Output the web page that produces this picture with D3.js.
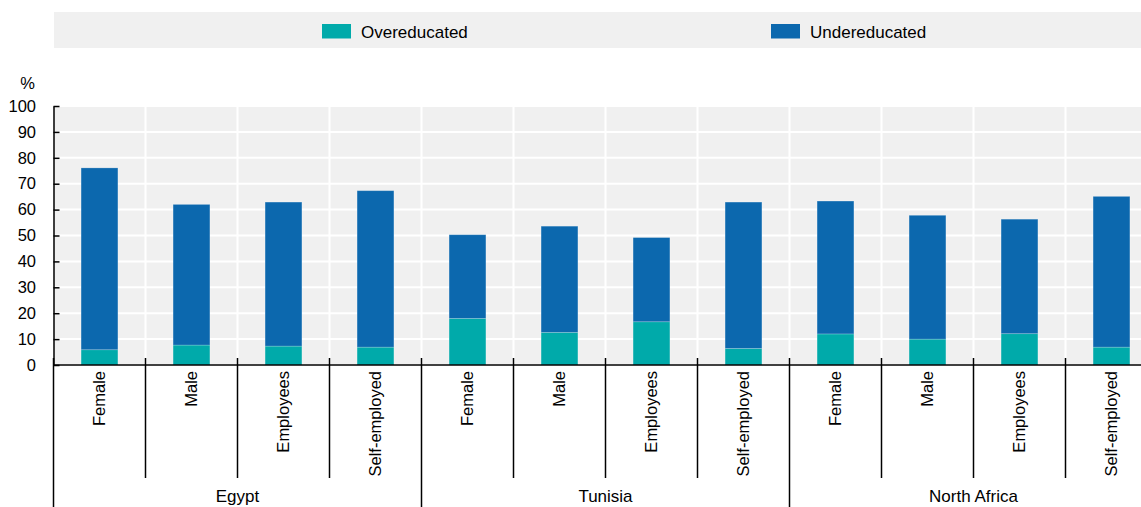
<!DOCTYPE html>
<html>
<head>
<meta charset="utf-8">
<script src="https://cdn.jsdelivr.net/npm/d3@7"></script>
<style>
  body { margin: 0; background: #fff; }
  svg { display: block; font-family: "Liberation Sans", Arial, sans-serif; }
</style>
</head>
<body>
<svg id="chart" width="1141" height="507"></svg>
<script>
const groups = ["Egypt", "Tunisia", "North Africa"];
const categories = ["Female", "Male", "Employees", "Self-employed"];
const seriesNames = ["Overeducated", "Undereducated"];
const overeducated = [5.9, 7.7, 7.3, 6.9, 18.0, 12.6, 16.7, 6.4, 12.0, 10.0, 12.1, 6.9];
const undereducated = [70.2, 54.3, 55.6, 60.4, 32.3, 41.0, 32.5, 56.5, 51.3, 47.8, 44.2, 58.2];
const yTicks = [0, 10, 20, 30, 40, 50, 60, 70, 80, 90, 100];

(function () {
const colors = { Overeducated: "#00AAAA", Undereducated: "#0C68AE" };

const rows = [];
groups.forEach((g, gi) => categories.forEach((c, ci) => {
  const i = gi * categories.length + ci;
  rows.push({ key: g + "|" + c, group: g, cat: c, Overeducated: overeducated[i], Undereducated: undereducated[i] });
}));

const svg = d3.select("#chart");
const pLeft = 53.5, pRight = 1157.5, pTop = 106, pBottom = 365;

const x = d3.scaleBand().domain(rows.map(d => d.key)).range([pLeft, pRight]).paddingInner(0.6).paddingOuter(0.3);
const y = d3.scaleLinear().domain([0, 100]).range([pBottom, pTop]);
const step = x.step();

const boundaries = rows.map((d, i) => pLeft + i * step).concat([pRight]);

// Legend
svg.append("rect").attr("x", 54).attr("y", 12).attr("width", 1141 - 54).attr("height", 36).attr("fill", "#f0f0f0");
const legendX = [322, 771];
seriesNames.forEach((s, i) => {
  svg.append("rect").attr("x", legendX[i]).attr("y", 24).attr("width", 29).attr("height", 14.5).attr("fill", colors[s]);
  svg.append("text").attr("x", legendX[i] + 39).attr("y", 37.5).attr("font-size", 17).attr("fill", "#000").text(s);
});

// Plot background
svg.append("rect").attr("x", pLeft).attr("y", pTop).attr("width", pRight - pLeft).attr("height", pBottom - pTop).attr("fill", "#f0f0f0");

// Horizontal grid
svg.append("g").selectAll("line").data(yTicks).join("line")
  .attr("x1", pLeft).attr("x2", pRight).attr("y1", d => y(d)).attr("y2", d => y(d))
  .attr("stroke", "#fff").attr("stroke-width", 2);
// Vertical grid
svg.append("g").selectAll("line").data(boundaries.slice(1, -1)).join("line")
  .attr("x1", d => d).attr("x2", d => d).attr("y1", pTop).attr("y2", pBottom)
  .attr("stroke", "#fff").attr("stroke-width", 2);

// Stacked bars
const stack = d3.stack().keys(seriesNames)(rows);
svg.append("g").selectAll("g").data(stack).join("g")
  .attr("fill", d => colors[d.key])
  .selectAll("rect").data(d => d).join("rect")
  .attr("x", d => x(d.data.key)).attr("width", x.bandwidth())
  .attr("y", d => y(d[1])).attr("height", d => y(d[0]) - y(d[1]))
  .attr("stroke", "rgba(255,255,255,0.25)").attr("stroke-width", 0.8);

// Y axis
const yAxis = d3.axisLeft(y).tickValues(yTicks).tickSizeInner(-6).tickSizeOuter(0).tickPadding(17.5);
const ya = svg.append("g").attr("transform", `translate(${pLeft},0)`).call(yAxis);
ya.select(".domain").attr("stroke", "#000").attr("stroke-width", 1.5);
ya.selectAll(".tick line").attr("stroke", "#000").attr("stroke-width", 1.5);
ya.selectAll(".tick text").attr("font-size", 16.5).attr("fill", "#000").style("font-family", "Liberation Sans, Arial, sans-serif");

svg.append("text").attr("x", 35).attr("y", 89).attr("text-anchor", "end").attr("font-size", 16.5).attr("fill", "#000").text("%");

// X axis line
svg.append("line").attr("x1", pLeft).attr("x2", pRight).attr("y1", pBottom).attr("y2", pBottom).attr("stroke", "#000").attr("stroke-width", 1.5);

// Category ticks
boundaries.forEach((b, i) => {
  const isGroup = i % categories.length === 0;
  svg.append("line").attr("x1", b).attr("x2", b)
    .attr("y1", 358).attr("y2", isGroup ? 507 : 478)
    .attr("stroke", "#000").attr("stroke-width", 1.5);
});

// Category labels
svg.append("g").selectAll("text").data(rows).join("text")
  .attr("transform", d => `translate(${x(d.key) + x.bandwidth() / 2},371) rotate(-90)`)
  .attr("text-anchor", "end").attr("dy", "0.35em").attr("font-size", 16.5).attr("fill", "#000")
  .text(d => d.cat);

// Group labels
groups.forEach((g, gi) => {
  const x0 = boundaries[gi * categories.length], x1 = boundaries[(gi + 1) * categories.length];
  svg.append("text").attr("x", (x0 + x1) / 2).attr("y", 502).attr("text-anchor", "middle")
    .attr("font-size", 17).attr("fill", "#000").text(g);
});
})();
</script>
</body>
</html>
